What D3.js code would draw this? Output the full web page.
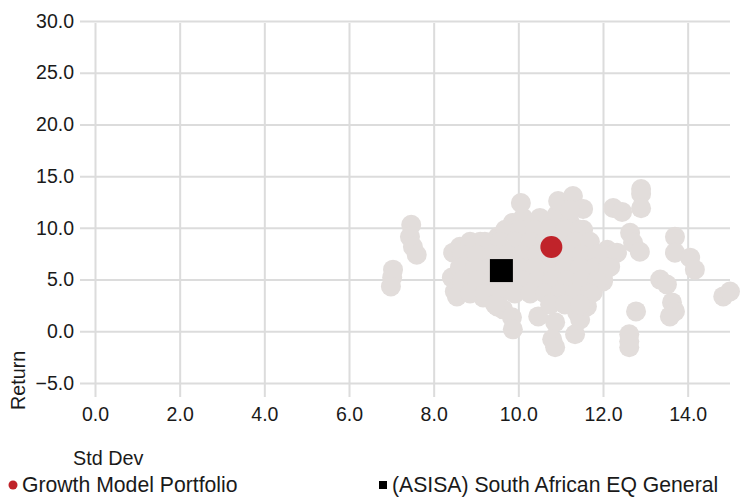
<!DOCTYPE html>
<html><head><meta charset="utf-8">
<script src="https://cdn.jsdelivr.net/npm/d3@7"></script>
<style>
body{margin:0;background:#fff}
svg{display:block}
text{font-family:"Liberation Sans",Arial,Helvetica,sans-serif;fill:#1a1a1a}
</style>
</head><body>
<svg id="chart" width="740" height="497"></svg>
<script>
const xTicks = [0, 2, 4, 6, 8, 10, 12, 14];
const yTicks = [-5, 0, 5, 10, 15, 20, 25, 30];
const xLabel = "Std Dev";
const yLabel = "Return";
const seriesNames = ["Growth Model Portfolio", "(ASISA) South African EQ General"];
const portfolioPoint = [10.78, 8.15];
const benchmarkPoint = [9.6, 5.87];

// peer group cloud (std dev, return)
const peerStdDev = [
  7.04, 7.02, 6.99,
  7.47, 7.44, 7.51, 7.60,
  8.46, 8.62, 9.10, 9.52, 9.80,
  8.43, 8.50, 8.55, 8.98, 9.17, 9.50, 9.64, 9.85, 9.87,
  9.87, 10.11, 10.51, 10.91, 11.22, 11.53, 10.06, 10.94, 11.29, 11.53, 11.22,
  10.47, 10.87, 10.80, 10.87, 11.34, 11.39, 11.46, 11.62, 11.76, 12.00,
  12.10, 12.33, 12.24, 12.17, 12.00,
  12.24, 12.45, 12.90, 12.90, 12.90,
  12.64, 12.71, 12.87,
  13.70, 13.70, 14.06, 14.17,
  13.35, 13.51,
  13.63, 13.70, 13.58,
  12.78,
  12.62, 12.62, 12.62,
  14.84, 15.00,
  9.69, 10.04, 10.39, 10.75, 11.10, 11.46,
  8.86, 9.21, 9.57, 9.92, 10.28, 10.63, 10.99, 11.34, 11.69,
  8.67, 9.02, 9.38, 9.73, 10.09, 10.44, 10.80, 11.15, 11.50, 11.86,
  8.62, 8.98, 9.33, 9.69, 10.04, 10.39, 10.75, 11.10, 11.46, 11.81, 12.12,
  8.67, 9.02, 9.38, 9.73, 10.09, 10.44, 10.80, 11.15, 11.50, 11.86,
  8.86, 9.21, 9.57, 9.92, 10.28, 10.63, 10.99, 11.34, 11.69,
  9.45, 10.75, 11.10, 11.46
];
const peerReturn = [
  5.96, 5.20, 4.33,
  10.30, 9.13, 8.17, 7.40,
  7.60, 8.17, 8.65, 9.13, 9.33,
  5.19, 3.85, 3.37, 3.85, 3.27, 2.40, 2.12, 1.35, 0.19,
  10.48, 10.96, 10.96, 11.25, 10.48, 9.81, 12.40, 12.60, 13.08, 11.83, 11.73,
  1.44, 0.87, -0.77, -1.54, -0.29, 1.83, 1.15, 2.40, 3.75, 4.81,
  7.88, 7.60, 7.40, 6.25, 5.00,
  11.92, 11.54, 13.75, 13.30, 11.90,
  9.52, 8.56, 7.69,
  9.13, 7.60, 7.12, 5.96,
  5.00, 4.52,
  2.79, 1.92, 1.44,
  1.92,
  -0.29, -0.96, -1.54,
  3.37, 3.85,
  9.81, 9.81, 9.81, 9.81, 9.81, 9.81,
  8.65, 8.65, 8.65, 8.65, 8.65, 8.65, 8.65, 8.65, 8.65,
  7.40, 7.40, 7.40, 7.40, 7.40, 7.40, 7.40, 7.40, 7.40, 7.40,
  6.15, 6.15, 6.15, 6.15, 6.15, 6.15, 6.15, 6.15, 6.15, 6.15, 6.15,
  4.90, 4.90, 4.90, 4.90, 4.90, 4.90, 4.90, 4.90, 4.90, 4.90,
  3.65, 3.65, 3.65, 3.65, 3.65, 3.65, 3.65, 3.65, 3.65,
  2.60, 2.60, 2.60, 2.60
];

const W = 740, H = 497;
const plot = {left: 95, right: 730, top: 21, bottom: 383};
const svg = d3.select("#chart");

const x = d3.scaleLinear().domain([0, 15]).range([plot.left, plot.right]);
const y = d3.scaleLinear().domain([-5, 30]).range([plot.bottom, plot.top]);

const gridColor = "#dcdcdc";
const fmt = d3.format(".1f");

// horizontal grid + y labels
const gy = svg.append("g")
  .attr("transform", `translate(${plot.left - 15},0)`)
  .call(d3.axisLeft(y).tickValues(yTicks).tickFormat(fmt)
    .tickSize(-(plot.right - plot.left + 15)).tickPadding(6));
gy.select(".domain").remove();
gy.selectAll("line").attr("stroke", gridColor).attr("stroke-width", 2);
gy.selectAll("text").attr("font-size", 19.5).attr("fill", "#1a1a1a")
  .attr("font-family", '"Liberation Sans",Arial,sans-serif');

// vertical grid + x labels
const gx = svg.append("g")
  .attr("transform", `translate(0,${plot.bottom + 14})`)
  .call(d3.axisBottom(x).tickValues(xTicks).tickFormat(fmt)
    .tickSize(-(plot.bottom + 14 - plot.top - 2)).tickPadding(10));
gx.select(".domain").remove();
gx.selectAll("line").attr("stroke", gridColor).attr("stroke-width", 2);
gx.selectAll("text").attr("font-size", 19.5).attr("fill", "#1a1a1a")
  .attr("font-family", '"Liberation Sans",Arial,sans-serif');

// axis titles
svg.append("text").attr("x", 73).attr("y", 465).attr("font-size", 19.8).text(xLabel);
svg.append("text").attr("transform", "translate(25,410) rotate(-90)")
  .attr("font-size", 19.8).text(yLabel);

// peer cloud
const peers = peerStdDev.map((d, i) => [d, peerReturn[i]]);
svg.append("g").selectAll("circle").data(peers).join("circle")
  .attr("cx", d => x(d[0])).attr("cy", d => y(d[1])).attr("r", 10)
  .attr("fill", "#e2dddb");

// benchmark square
const sq = 23;
svg.append("rect")
  .attr("x", x(benchmarkPoint[0]) - sq / 2).attr("y", y(benchmarkPoint[1]) - sq / 2)
  .attr("width", sq).attr("height", sq).attr("fill", "#000");

// portfolio dot
svg.append("circle")
  .attr("cx", x(portfolioPoint[0])).attr("cy", y(portfolioPoint[1])).attr("r", 11)
  .attr("fill", "#c0232a");

// legend
const lg = svg.append("g");
lg.append("circle").attr("cx", 13).attr("cy", 485).attr("r", 4.5).attr("fill", "#c0232a");
lg.append("text").attr("x", 22).attr("y", 492).attr("font-size", 21.2).text(seriesNames[0]);
lg.append("rect").attr("x", 379).attr("y", 481).attr("width", 8).attr("height", 8).attr("fill", "#000");
lg.append("text").attr("x", 392).attr("y", 492).attr("font-size", 21.2).text(seriesNames[1]);
</script>
</body></html>
